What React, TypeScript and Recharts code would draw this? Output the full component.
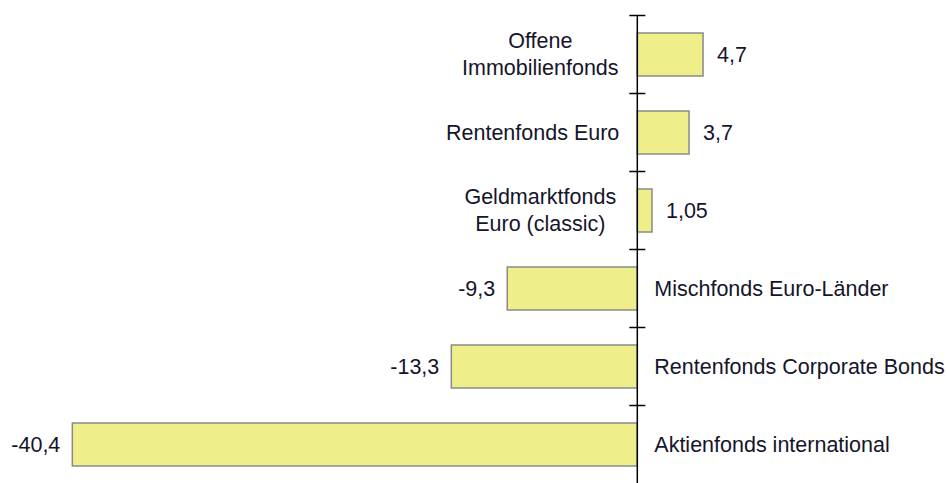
import { BarChart, Bar, XAxis, YAxis, ReferenceLine, LabelList } from 'recharts'

const categories = [
  'Offene|Immobilienfonds',
  'Rentenfonds Euro',
  'Geldmarktfonds|Euro (classic)',
  'Mischfonds Euro-Länder',
  'Rentenfonds Corporate Bonds',
  'Aktienfonds international',
]
const values = [4.7, 3.7, 1.05, -9.3, -13.3, -40.4]

const data = categories.map((name, i) => ({ name, value: values[i] }))

const FONT = '"Liberation Sans", Arial, sans-serif'
const TEXT = '#15152a'
const BAR_SIZE = 43
const BAND = 78

const fmt = (v: number) => String(v).replace('.', ',')

const BarLabels = (props: any) => {
  const { x, y, width, height, index } = props
  const v = values[index]
  const left = Math.min(x, x + width)
  const right = Math.max(x, x + width)
  const zero = v >= 0 ? left : right
  const cy = y + height / 2
  const lines = categories[index].split('|')
  const tickY = y - (BAND - BAR_SIZE) / 2

  return (
    <g fontFamily={FONT} fontSize={21.5} fill={TEXT}>
      <line x1={zero - 8} x2={zero + 8} y1={tickY} y2={tickY} stroke="#000" strokeWidth={1.5} />
      {v >= 0 ? (
        <text x={right + 14} y={cy} dominantBaseline="central" textAnchor="start">
          {fmt(v)}
        </text>
      ) : (
        <text x={left - 12} y={cy} dominantBaseline="central" textAnchor="end">
          {fmt(v)}
        </text>
      )}
      {v >= 0 ? (
        lines.length > 1 ? (
          lines.map((t, i) => (
            <text
              key={i}
              x={zero - 97}
              y={cy + (i - (lines.length - 1) / 2) * 27}
              dominantBaseline="central"
              textAnchor="middle"
            >
              {t}
            </text>
          ))
        ) : (
          <text x={zero - 18} y={cy} dominantBaseline="central" textAnchor="end">
            {lines[0]}
          </text>
        )
      ) : (
        <text x={zero + 17} y={cy} dominantBaseline="central" textAnchor="start">
          {lines[0]}
        </text>
      )}
    </g>
  )
}

export default function App() {
  return (
    <div style={{ position: 'absolute', left: 0, top: 0, background: '#fff' }}>
      <BarChart
        width={947}
        height={483}
        data={data}
        layout="vertical"
        margin={{ top: 15, right: 30, left: 8, bottom: 0 }}
      >
        <XAxis type="number" domain={[-45, 20]} hide />
        <YAxis type="category" dataKey="name" hide />
        <Bar
          dataKey="value"
          fill="#eeee8a"
          stroke="#8a8a8a"
          strokeWidth={1.5}
          barSize={BAR_SIZE}
          isAnimationActive={false}
        >
          <LabelList dataKey="value" content={BarLabels} />
        </Bar>
        <ReferenceLine x={0} stroke="#000" strokeWidth={1.5} />
      </BarChart>
    </div>
  )
}
